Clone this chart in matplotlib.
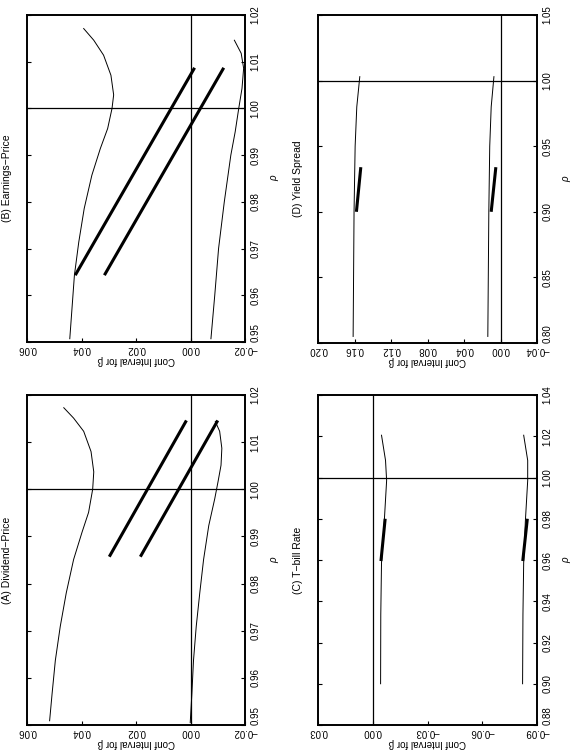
import matplotlib
matplotlib.use("Agg")
import matplotlib.pyplot as plt

plt.rcParams['font.family'] = ['Liberation Sans', 'DejaVu Sans']

# ---------------- data ----------------
titles = ["(A) Dividend\u2212Price", "(B) Earnings\u2212Price", "(C) T\u2212bill Rate", "(D) Yield Spread"]

# Panel A
rhoA_up = [0.9509, 0.9566, 0.9637, 0.9709, 0.9780, 0.9851, 0.9909, 0.9951, 1.0000, 1.0037, 1.0080, 1.0123, 1.0151, 1.0173]
betaA_up = [0.0517, 0.0508, 0.0496, 0.0478, 0.0456, 0.0429, 0.0398, 0.0374, 0.0359, 0.0355, 0.0365, 0.0392, 0.0429, 0.0465]
rhoA_lo = [0.9505, 0.9566, 0.9637, 0.9709, 0.9780, 0.9851, 0.9923, 0.9980, 1.0016, 1.0051, 1.0087, 1.0123, 1.0144]
betaA_lo = [0.0001, -0.0005, -0.0011, -0.0021, -0.0034, -0.0048, -0.0067, -0.0089, -0.0101, -0.0112, -0.0115, -0.0107, -0.0091]
rhoA_thick = [0.9857, 1.0146]
betaA_thick_up = [0.0298, 0.0015]
betaA_thick_lo = [0.0184, -0.0100]

# Panel B
rhoB_up = [0.9507, 0.9571, 0.9643, 0.9714, 0.9786, 0.9857, 0.9914, 0.9957, 1.0000, 1.0029, 1.0071, 1.0114, 1.0146, 1.0171]
betaB_up = [0.0443, 0.0435, 0.0426, 0.0410, 0.0390, 0.0362, 0.0331, 0.0304, 0.0288, 0.0282, 0.0292, 0.0319, 0.0355, 0.0392]
rhoB_lo = [0.9507, 0.9600, 0.9700, 0.9800, 0.9900, 0.9950, 1.0000, 1.0043, 1.0086, 1.0118, 1.0146]
betaB_lo = [-0.0075, -0.0089, -0.0103, -0.0124, -0.0148, -0.0164, -0.0177, -0.0189, -0.0195, -0.0186, -0.0161]
rhoB_thick = [0.9643, 1.0087]
betaB_thick_up = [0.0423, -0.0015]
betaB_thick_lo = [0.0316, -0.0122]

# Panel C
rhoC = [0.900, 0.9335, 0.9587, 0.9785, 0.9985, 1.0083, 1.0205]
betaC_up = [-0.0043, -0.0044, -0.0048, -0.0063, -0.0076, -0.0070, -0.0048]
betaC_lo = [-0.0821, -0.0823, -0.0827, -0.0836, -0.0849, -0.0849, -0.0827]
rhoC_thick = [0.9595, 0.9800]
betaC_thick_up = [-0.0045, -0.0068]
betaC_thick_lo = [-0.0822, -0.0847]

# Panel D
rhoD = [0.805, 0.900, 0.950, 0.980, 1.003]
betaD_up = [0.1615, 0.1605, 0.1593, 0.1575, 0.1542]
betaD_lo = [0.0139, 0.0128, 0.0118, 0.0102, 0.0072]
rhoD_thick = [0.900, 0.934]
betaD_thick_up = [0.1579, 0.1531]
betaD_thick_lo = [0.0102, 0.0051]

# axis ranges and ticks
rho_lims = [(0.95, 1.02), (0.95, 1.02), (0.88, 1.04), (0.80, 1.05)]
beta_lims = [(-0.02, 0.06), (-0.02, 0.06), (-0.09, 0.03), (-0.04, 0.20)]
rho_ticks = [[0.95, 0.96, 0.97, 0.98, 0.99, 1.00, 1.01, 1.02],
             [0.95, 0.96, 0.97, 0.98, 0.99, 1.00, 1.01, 1.02],
             [0.88, 0.90, 0.92, 0.94, 0.96, 0.98, 1.00, 1.02, 1.04],
             [0.80, 0.85, 0.90, 0.95, 1.00, 1.05]]
beta_ticks = [[-0.02, 0.00, 0.02, 0.04, 0.06],
              [-0.02, 0.00, 0.02, 0.04, 0.06],
              [-0.09, -0.06, -0.03, 0.00, 0.03],
              [-0.04, 0.00, 0.04, 0.08, 0.12, 0.16, 0.20]]

panels = [
    (rhoA_up, betaA_up, rhoA_lo, betaA_lo, rhoA_thick, betaA_thick_up, betaA_thick_lo),
    (rhoB_up, betaB_up, rhoB_lo, betaB_lo, rhoB_thick, betaB_thick_up, betaB_thick_lo),
    (rhoC, betaC_up, rhoC, betaC_lo, rhoC_thick, betaC_thick_up, betaC_thick_lo),
    (rhoD, betaD_up, rhoD, betaD_lo, rhoD_thick, betaD_thick_up, betaD_thick_lo),
]

# ---------------- figure ----------------
W, H = 576, 756
fig = plt.figure(figsize=(W / 100, H / 100), dpi=100)

# pixel boxes (x0, y_top, x1, y_bottom)
boxes = [(27, 395, 245, 725), (27, 15, 245, 342), (318, 395, 537, 725), (318, 15, 537, 343)]

def fmt(v):
    s = "%.2f" % v
    if s == "-0.00":
        s = "0.00"
    return s.replace("-", "\u2212")

for i, (box, data) in enumerate(zip(boxes, panels)):
    x0, yt, x1, yb = box
    ax = fig.add_axes([x0 / W, 1 - yb / H, (x1 - x0) / W, (yb - yt) / H])
    r_up, b_up, r_lo, b_lo, r_th, b_th_up, b_th_lo = data
    ax.plot(b_up, r_up, color='black', lw=0.7)
    ax.plot(b_lo, r_lo, color='black', lw=0.7)
    ax.plot(b_th_up, r_th, color='black', lw=2.2, solid_capstyle='butt')
    ax.plot(b_th_lo, r_th, color='black', lw=2.2, solid_capstyle='butt')
    ax.axvline(0.0, color='black', lw=0.9)
    ax.axhline(1.0, color='black', lw=0.9)

    bl = beta_lims[i]
    ax.set_xlim(bl[1], bl[0])
    ax.set_ylim(*rho_lims[i])
    ax.set_xticks(beta_ticks[i])
    ax.set_xticklabels([fmt(v) for v in beta_ticks[i]], rotation=180, fontsize=7)
    ax.set_yticks(rho_ticks[i])
    ax.set_yticklabels(["%.2f" % v for v in rho_ticks[i]], rotation=90, va='center', fontsize=7)
    ax.yaxis.tick_right()
    ax.tick_params(axis='y', which='both', left=True, right=True, labelleft=False,
                   labelright=True, direction='in', length=3, width=0.8, pad=4)
    ax.tick_params(axis='x', direction='in', length=3, width=0.8, pad=1.5)
    for sp in ax.spines.values():
        sp.set_linewidth(1.4)

    # lowest rho label sits just above the corner, as in the original
    yt_ticks = ax.yaxis.get_major_ticks()
    for t in yt_ticks:
        t.label2.set_rotation(90)
        t.label2.set_va('center')
        t.label2.set_fontsize(7)
    yt_ticks[0].label2.set_va('bottom')

    # axis labels
    ax.set_xlabel("Conf Interval for \u03b2", rotation=180, fontsize=7, labelpad=1)
    ax.yaxis.set_label_position('right')
    ax.set_ylabel("\u03c1", rotation=90, fontsize=7, labelpad=6, fontstyle='italic')

    # title (left side, rotated)
    fig.text((x0 - 20) / W, 1 - ((yt + yb) / 2) / H, titles[i], rotation=90,
             ha='center', va='center', fontsize=7.5)

fig.savefig("out.png", dpi=100)
